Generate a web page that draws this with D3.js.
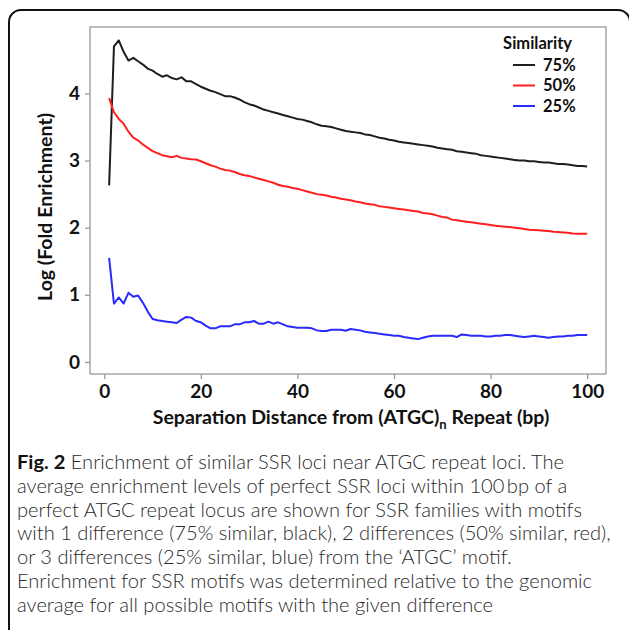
<!DOCTYPE html>
<html>
<head>
<meta charset="utf-8">
<script src="https://cdn.jsdelivr.net/npm/d3@7"></script>
<style>
  html, body { margin: 0; padding: 0; background: #fff; }
  svg { display: block; }
  .tick text { font-family: Lato, "Open Sans", sans-serif; font-weight: 700; font-size: 19px; fill: #111; }
  .axis path, .axis line { stroke: #999; stroke-width: 1.3px; }
</style>
</head>
<body>
<div id="chart"></div>
<script>
const distance = d3.range(1, 101);

const similarity75 = [
  2.63, 4.70, 4.79, 4.62, 4.49, 4.53, 4.48, 4.43, 4.37, 4.34,
  4.29, 4.25, 4.27, 4.23, 4.21, 4.24, 4.18, 4.18, 4.14, 4.10,
  4.07, 4.04, 4.02, 3.99, 3.96, 3.96, 3.94, 3.91, 3.87, 3.84,
  3.82, 3.79, 3.76, 3.74, 3.72, 3.70, 3.68, 3.66, 3.64, 3.62,
  3.61, 3.59, 3.57, 3.54, 3.52, 3.51, 3.50, 3.48, 3.46, 3.44,
  3.43, 3.42, 3.41, 3.39, 3.38, 3.36, 3.34, 3.33, 3.31, 3.30,
  3.28, 3.27, 3.26, 3.25, 3.24, 3.23, 3.22, 3.21, 3.19, 3.18,
  3.17, 3.16, 3.14, 3.13, 3.12, 3.11, 3.10, 3.08, 3.07, 3.06,
  3.05, 3.04, 3.03, 3.02, 3.01, 3.00, 3.00, 2.99, 2.99, 2.98,
  2.97, 2.97, 2.96, 2.95, 2.95, 2.94, 2.93, 2.92, 2.92, 2.91
];

const similarity50 = [
  3.93, 3.72, 3.62, 3.55, 3.43, 3.34, 3.30, 3.24, 3.19, 3.14,
  3.11, 3.08, 3.065, 3.05, 3.07, 3.04, 3.03, 3.02, 3.015, 2.99,
  2.96, 2.93, 2.91, 2.88, 2.86, 2.85, 2.83, 2.80, 2.78, 2.77,
  2.75, 2.73, 2.71, 2.69, 2.67, 2.64, 2.62, 2.61, 2.59, 2.58,
  2.56, 2.54, 2.52, 2.50, 2.49, 2.48, 2.46, 2.45, 2.43, 2.42,
  2.41, 2.39, 2.38, 2.36, 2.35, 2.34, 2.32, 2.31, 2.30, 2.29,
  2.28, 2.27, 2.26, 2.25, 2.24, 2.22, 2.21, 2.20, 2.18, 2.16,
  2.15, 2.12, 2.11, 2.10, 2.09, 2.08, 2.07, 2.06, 2.05, 2.04,
  2.03, 2.02, 2.015, 2.01, 2.00, 1.99, 1.98, 1.97, 1.965, 1.96,
  1.955, 1.95, 1.94, 1.935, 1.93, 1.925, 1.915, 1.91, 1.91, 1.91
];

const similarity25 = [
  1.55, 0.87, 0.96, 0.87, 1.03, 0.97, 0.99, 0.88, 0.75, 0.64,
  0.62, 0.61, 0.60, 0.59, 0.58, 0.63, 0.67, 0.66, 0.61, 0.59,
  0.54, 0.50, 0.50, 0.53, 0.53, 0.53, 0.56, 0.56, 0.59, 0.59,
  0.61, 0.57, 0.57, 0.60, 0.57, 0.59, 0.56, 0.53, 0.52, 0.51,
  0.51, 0.51, 0.50, 0.47, 0.46, 0.46, 0.48, 0.48, 0.48, 0.465,
  0.49, 0.48, 0.47, 0.45, 0.44, 0.43, 0.42, 0.41, 0.40, 0.39,
  0.39, 0.37, 0.36, 0.35, 0.34, 0.36, 0.38, 0.39, 0.39, 0.39,
  0.39, 0.39, 0.37, 0.41, 0.40, 0.39, 0.39, 0.39, 0.38, 0.38,
  0.39, 0.39, 0.40, 0.40, 0.39, 0.38, 0.37, 0.38, 0.39, 0.38,
  0.37, 0.36, 0.37, 0.38, 0.38, 0.39, 0.39, 0.40, 0.40, 0.40
];

const seriesNames = ['75%', '50%', '25%'];
const seriesColors = ['#1e1e1e', '#ff1f1f', '#2a2aff'];
const xTicks = [0, 20, 40, 60, 80, 100];
const yTicks = [0, 1, 2, 3, 4];

const captionLines = [
  'Enrichment of similar SSR loci near ATGC repeat loci. The',
  'average enrichment levels of perfect SSR loci within 100\u2009bp of a',
  'perfect ATGC repeat locus are shown for SSR families with motifs',
  'with 1 difference (75% similar, black), 2 differences (50% similar, red),',
  'or 3 differences (25% similar, blue) from the \u2018ATGC\u2019 motif.',
  'Enrichment for SSR motifs was determined relative to the genomic',
  'average for all possible motifs with the given difference'
];

const W = 629, H = 630;
const plot = { left: 90, right: 606, top: 27, bottom: 374 };

const svg = d3.select('#chart').append('svg')
  .attr('width', W)
  .attr('height', H);

// outer frame of the figure panel, bottom runs off the page
svg.append('rect')
  .attr('x', 9).attr('y', 10)
  .attr('width', 621).attr('height', 700)
  .attr('rx', 12)
  .attr('fill', 'none')
  .attr('stroke', '#111')
  .attr('stroke-width', 2);

const x = d3.scaleLinear().domain([-2.96, 103.9]).range([plot.left, plot.right]);
const y = d3.scaleLinear().domain([-0.18, 4.99]).range([plot.bottom, plot.top]);

svg.append('rect')
  .attr('x', plot.left).attr('y', plot.top)
  .attr('width', plot.right - plot.left)
  .attr('height', plot.bottom - plot.top)
  .attr('fill', 'none')
  .attr('stroke', '#999')
  .attr('stroke-width', 1.3);

svg.append('g')
  .attr('class', 'axis')
  .attr('transform', `translate(${plot.left},0)`)
  .call(d3.axisLeft(y).tickValues(yTicks).tickFormat(d3.format('d'))
    .tickSize(5).tickPadding(5).tickSizeOuter(0))
  .call(g => g.select('.domain').remove());

svg.append('g')
  .attr('class', 'axis')
  .attr('transform', `translate(0,${plot.bottom})`)
  .call(d3.axisBottom(x).tickValues(xTicks).tickFormat(d3.format('d'))
    .tickSize(5).tickPadding(6).tickSizeOuter(0))
  .call(g => g.select('.domain').remove());

const line = d3.line()
  .x((d, i) => x(distance[i]))
  .y(d => y(d));

[similarity75, similarity50, similarity25].forEach((values, i) => {
  svg.append('path')
    .datum(values)
    .attr('fill', 'none')
    .attr('stroke', seriesColors[i])
    .attr('stroke-width', 2)
    .attr('stroke-linejoin', 'round')
    .attr('d', line);
});

// legend
const legend = svg.append('g')
  .style('font-family', 'Lato, "Open Sans", sans-serif')
  .style('font-weight', 700);

legend.append('text')
  .attr('x', 572).attr('y', 49)
  .attr('text-anchor', 'end')
  .style('font-size', '16.5px')
  .attr('fill', '#111')
  .text('Similarity');

seriesNames.forEach((name, i) => {
  const ly = 65 + i * 20.5;
  legend.append('line')
    .attr('x1', 513).attr('x2', 535)
    .attr('y1', ly).attr('y2', ly)
    .attr('stroke', seriesColors[i])
    .attr('stroke-width', 2);
  legend.append('text')
    .attr('x', 543).attr('y', ly + 5.5)
    .style('font-size', '16.5px')
    .attr('fill', '#111')
    .text(name);
});

// axis titles
svg.append('text')
  .attr('transform', 'translate(52,207) rotate(-90)')
  .attr('text-anchor', 'middle')
  .style('font-family', 'Lato, "Open Sans", sans-serif')
  .style('font-weight', 700)
  .style('font-size', '19.5px')
  .attr('fill', '#111')
  .text('Log (Fold Enrichment)');

const xTitle = svg.append('text')
  .attr('x', 351).attr('y', 424)
  .attr('text-anchor', 'middle')
  .style('font-family', 'Lato, "Open Sans", sans-serif')
  .style('font-weight', 700)
  .style('font-size', '19.5px')
  .attr('fill', '#111');
xTitle.append('tspan').text('Separation Distance from (ATGC)');
xTitle.append('tspan').attr('dy', 5).style('font-size', '13px').text('n');
xTitle.append('tspan').attr('dy', -5).text(' Repeat (bp)');

// caption, stretched horizontally to the width of the original column
const caption = svg.append('g')
  .style('font-family', 'Lato, "Open Sans", sans-serif')
  .style('font-size', '19px')
  .style('font-weight', 300)
  .attr('fill', '#2a2a2a');

captionLines.forEach((txt, i) => {
  const t = caption.append('text')
    .attr('x', 0)
    .attr('y', 469 + i * 23.8);
  if (i === 0) {
    t.append('tspan').style('font-weight', 700).attr('fill', '#111').text('Fig. 2');
    t.append('tspan').text(' ' + txt);
  } else {
    t.text(txt);
  }
});

const widest = caption.selectAll('text').nodes()[3].getComputedTextLength();
const sx = 594 / widest;
caption.attr('transform', `translate(17,0) scale(${sx},1)`);
</script>
</body>
</html>
